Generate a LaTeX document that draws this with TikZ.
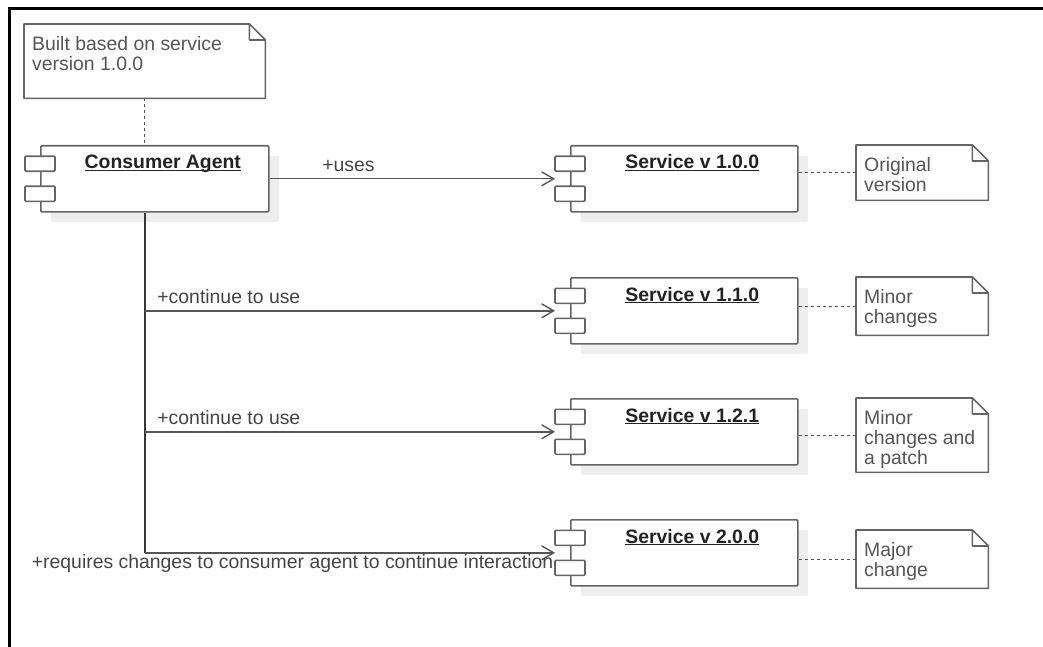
\documentclass[tikz,border=0pt]{standalone}
\usepackage{fontspec}
\setmainfont{Liberation Sans}
\usetikzlibrary{arrows.meta,shadows}

\definecolor{boxgray}{RGB}{100,100,100}
\definecolor{linegray}{RGB}{85,85,85}
\definecolor{trunkgray}{RGB}{55,55,55}
\definecolor{textgray}{RGB}{68,68,68}
\definecolor{notegray}{RGB}{85,85,85}
\definecolor{titlegray}{RGB}{34,34,34}
\definecolor{shadowgray}{RGB}{238,238,238}

\newcommand{\ultitle}[1]{\underline{\smash{\textbf{#1}}}}

\begin{document}
\begin{tikzpicture}[
		x=1pt, y=-1pt,
		every node/.style={inner sep=0pt, font=\fontsize{19.4}{20}\selectfont},
		every label/.append style={inner sep=0pt},
		component/.style={draw=boxgray, line width=1.6pt, fill=white, rounded corners=1pt,
			anchor=north west, minimum height=66pt, minimum width=227pt,
			drop shadow={shadow xshift=10pt, shadow yshift=-10pt, fill=shadowgray, opacity=1}},
		compname/.style={anchor=base, xshift=8pt, yshift=-24pt, text=titlegray},
		iconbox/.style={draw=boxgray, line width=1.6pt, fill=white, rounded corners=1pt},
		note/.style={anchor=north west, minimum width=132pt},
		notetext/.style={anchor=north west, align=left, xshift=8pt, yshift=-12pt, text=notegray},
		noteline/.style={draw=boxgray, line width=1.6pt, line join=round},
		link/.style={draw=linegray, line width=1.4pt, dash pattern=on 3pt off 3pt},
		uses/.style={draw=linegray, line width=1.4pt, -{Straight Barb[length=12pt,width=14pt]}},
		linklabel/.style={text=textgray}
	]
  \useasboundingbox (0,0) rectangle (1043,647);
  \draw[line width=3pt] (9,647) -- (9,9) -- (1043,9);

  % notes
  \node (n0) [note, minimum width=241pt, minimum height=74pt,
    label={[notetext]north west:{Built based on service\\version 1.0.0}}] at (24,24) {};
  \node (n1) [note, minimum height=55pt,
    label={[notetext]north west:{Original\\version}}] at (856,145) {};
  \node (n2) [note, minimum height=58pt,
    label={[notetext]north west:{Minor\\changes}}] at (856,277) {};
  \node (n3) [note, minimum height=74pt,
    label={[notetext]north west:{Minor\\changes and\\a patch}}] at (856,398) {};
  \node (n4) [note, minimum height=58pt,
    label={[notetext]north west:{Major\\change}}] at (856,530) {};
  \foreach \n in {n0,n1,n2,n3,n4}
    \draw[noteline] (\n.north west) -- ([xshift=-16pt]\n.north east)
      -- ([yshift=-16pt]\n.north east) -- (\n.south east) -- (\n.south west) -- cycle
      ([xshift=-16pt]\n.north east) |- ([yshift=-16pt]\n.north east);

  % components
  \node (agent) [component, minimum width=228pt,
    label={[compname]north:{\ultitle{Consumer Agent}}}] at (40,145) {};
  \node (s1) [component, label={[compname]north:{\ultitle{Service v 1.0.0}}}] at (570,145) {};
  \node (s2) [component, label={[compname]north:{\ultitle{Service v 1.1.0}}}] at (570,277) {};
  \node (s3) [component, label={[compname]north:{\ultitle{Service v 1.2.1}}}] at (570,398) {};
  \node (s4) [component, label={[compname]north:{\ultitle{Service v 2.0.0}}}] at (570,519) {};
  \foreach \c in {agent,s1,s2,s3,s4} {
    \draw[iconbox] ([shift={(-15pt,22.5pt)}]\c.west) rectangle ([shift={(15pt,7.5pt)}]\c.west);
    \draw[iconbox] ([shift={(-15pt,-7.5pt)}]\c.west) rectangle ([shift={(15pt,-22.5pt)}]\c.west);
  }

  % note links
  \draw[link] (n0.south) -- (n0.south |- agent.north);
  \foreach \n/\s in {n1/s1,n2/s2,n3/s3,n4/s4}
    \draw[link] (\n.west) -- (\n.west -| \s.east);

  % usage
  \coordinate (trunk) at (n0.south |- agent.south);
  \draw[uses] (agent.east) -- node (l1) [linklabel, pos=0, anchor=base west, xshift=52pt, yshift=7pt] {+uses}
    ([xshift=-15pt]s1.west);
  \draw[draw=trunkgray, line width=1.7pt] (trunk) -- (trunk |- s4.west);
  \draw[uses] (trunk |- s2.west) -- node (l2) [linklabel, pos=0, anchor=base west, xshift=12pt, yshift=7pt]
    {+continue to use} ([xshift=-15pt]s2.west);
  \draw[uses] (trunk |- s3.west) -- node (l3) [linklabel, pos=0, anchor=base west, xshift=12pt, yshift=7pt]
    {+continue to use} ([xshift=-15pt]s3.west);
  \draw[uses] (trunk |- s4.west) -- node (l4) [linklabel, pos=1, anchor=base east, xshift=-1pt, yshift=-16pt]
    {+requires changes to consumer agent to continue interaction} ([xshift=-15pt]s4.west);
\end{tikzpicture}
\end{document}
